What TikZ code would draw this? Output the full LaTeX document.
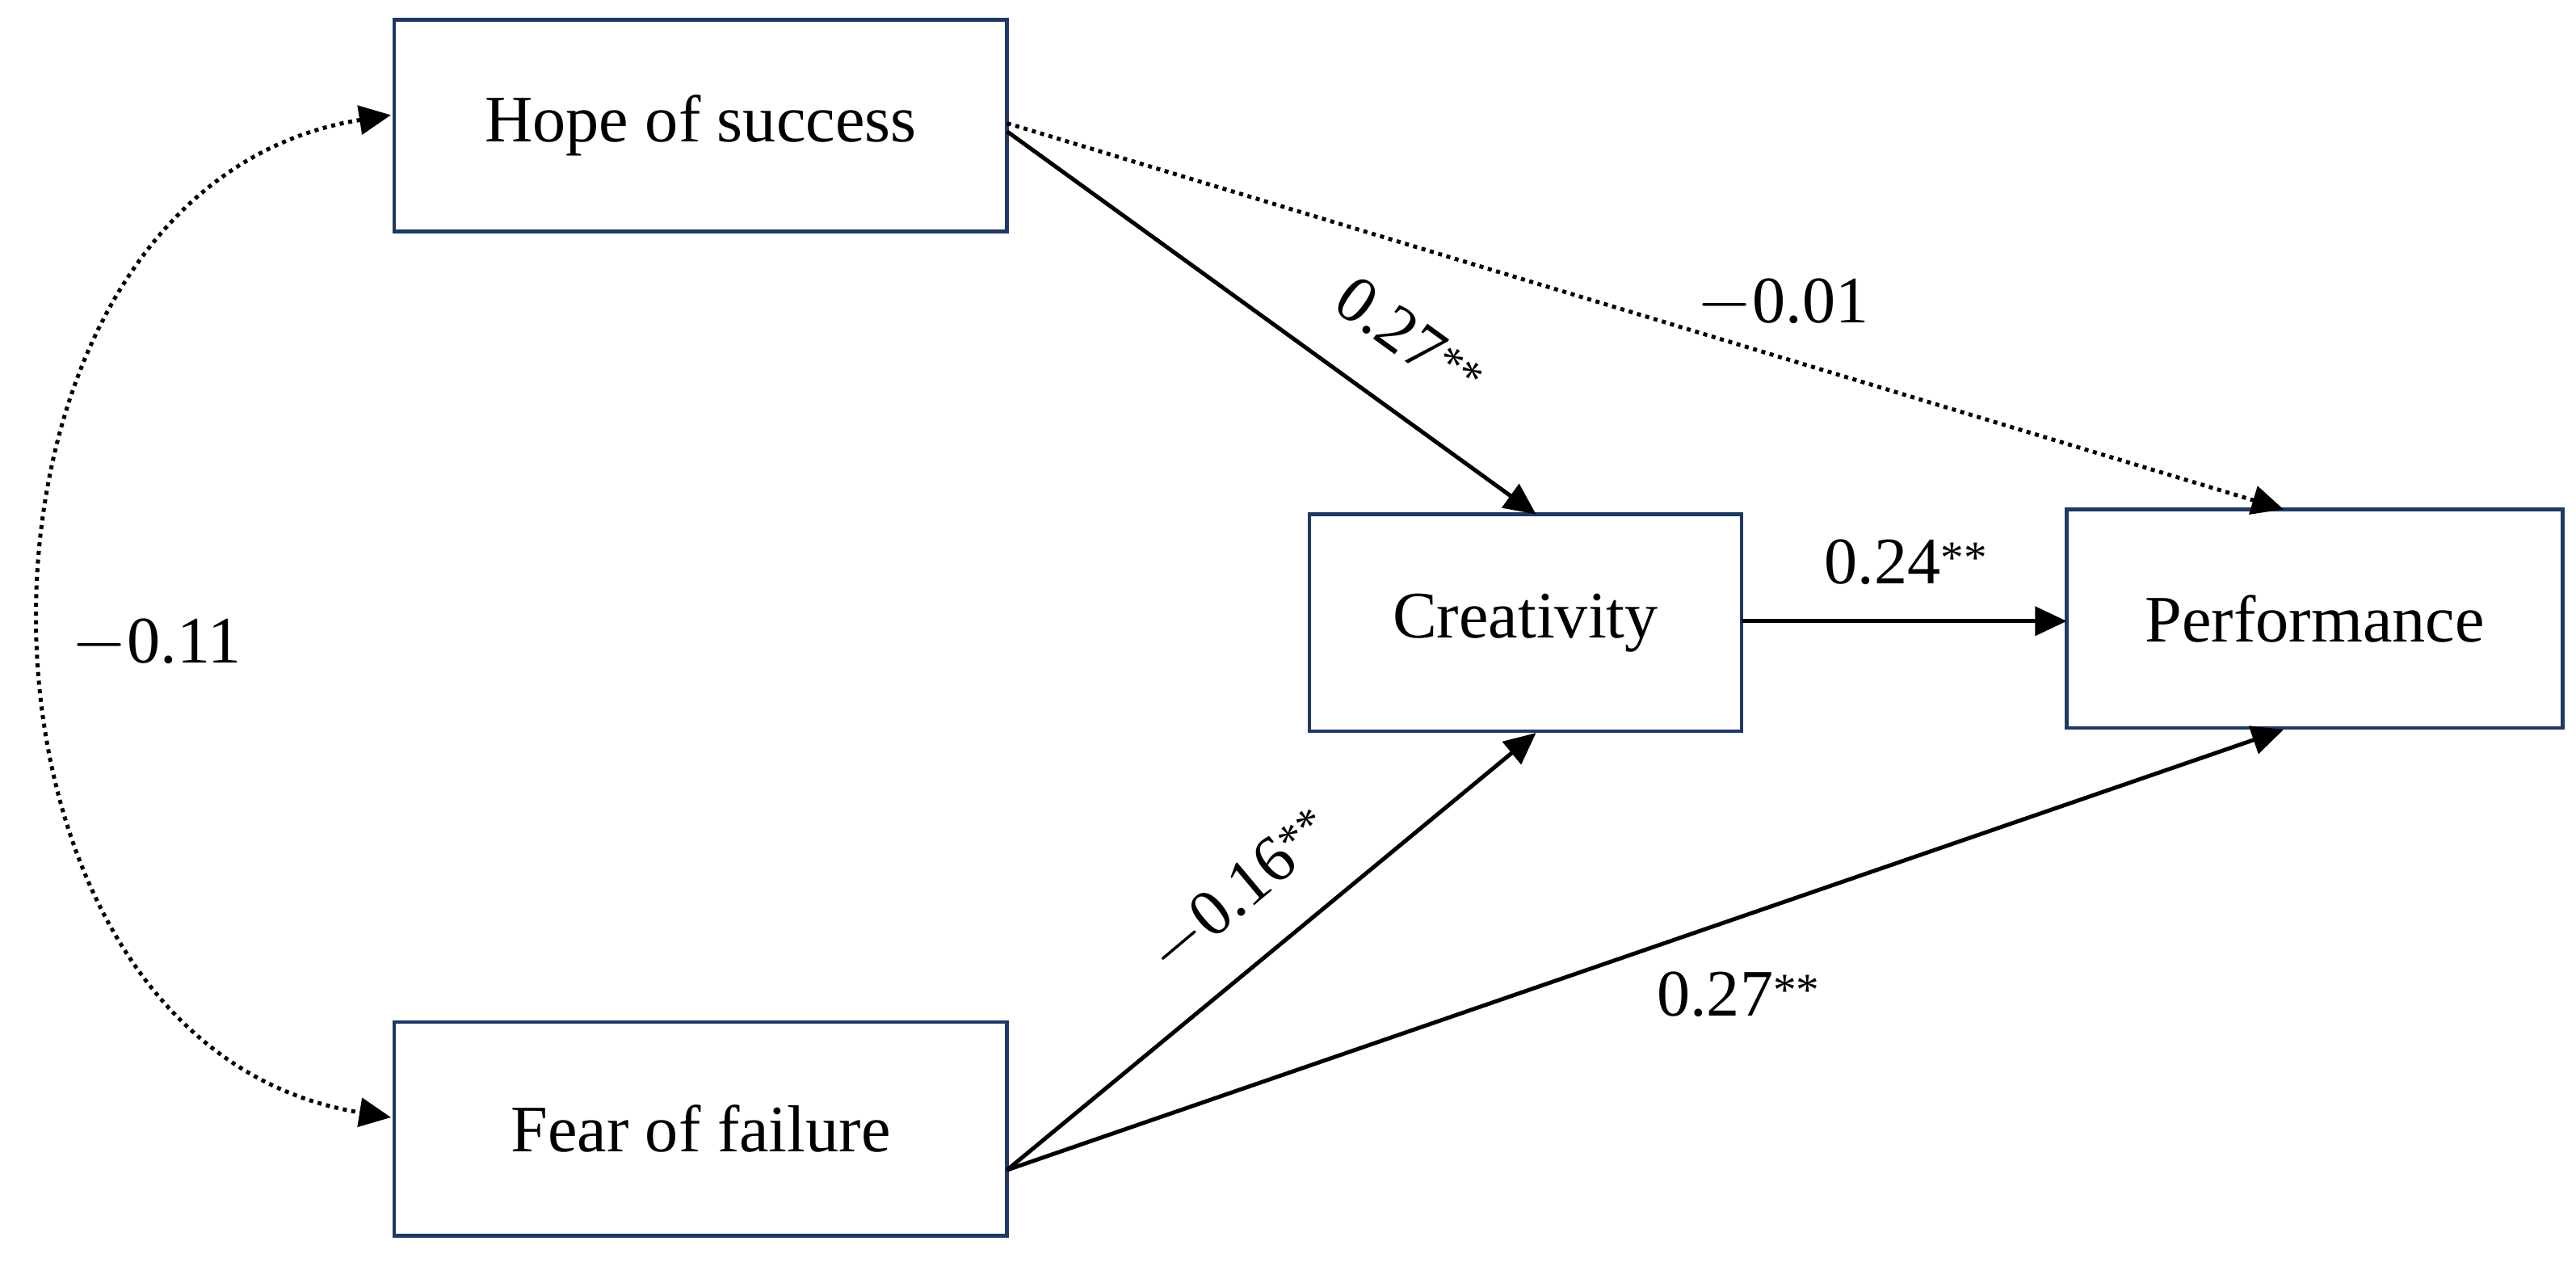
\documentclass[tikz,border=0pt]{standalone}
\usepackage{fontspec}
\setmainfont{Liberation Serif}
\usetikzlibrary{arrows.meta}
\definecolor{boxc}{HTML}{1F3864}
\newcommand{\st}{\raisebox{0.35ex}{\fontsize{16}{16}\selectfont **}}
\begin{document}
\begin{tikzpicture}[x=0.02cm,y=-0.02cm,
  box/.style={draw=boxc,line width=1.3pt,inner sep=0pt,font=\fontsize{23}{26}\selectfont},
  conn/.style={line width=1.4pt,-{Triangle[length=11pt,width=10pt]}},
  dotc/.style={conn,dash pattern=on 1.4pt off 1.6pt},
  lab/.style={font=\fontsize{23}{26}\selectfont}]
\useasboundingbox (0,0) rectangle (1568,768);
\node[box,minimum width=373*0.02cm,minimum height=129*0.02cm] (hope) at (426.5,76.5) {Hope of success};
\node[box,minimum width=373*0.02cm,minimum height=130*0.02cm] (fear) at (426.5,687) {Fear of failure};
\node[box,minimum width=263*0.02cm,minimum height=132*0.02cm] (crea) at (928.5,379) {Creativity};
\node[box,minimum width=302*0.02cm,minimum height=133*0.02cm] (perf) at (1409,376.5) {Performance};
\coordinate (hs) at (613,80); \coordinate (hs2) at (613,75);
\coordinate (ct) at (935,313); \coordinate (pt) at (1390,310);
\coordinate (fs) at (613,712); \coordinate (cb) at (935,446); \coordinate (pb) at (1390,444);
\coordinate (ce) at (1060,378); \coordinate (pw) at (1258,378);
\coordinate (ht) at (238,70); \coordinate (ft) at (238,680);
\draw[conn] (hs) -- (ct);
\draw[dotc] (hs2) -- (pt);
\draw[conn] (ce) -- (pw);
\draw[conn] (fs) -- (cb);
\draw[conn] (fs) -- (pb);
\draw[dotc,{Triangle[length=11pt,width=10pt]}-{Triangle[length=11pt,width=10pt]}] (ht) .. controls (-44,115) and (-44,635) .. (ft);
\node[lab] (l1) at (95,392) {$-$0.11};
\node[lab,rotate=-36] (l2) at (858,206) {0.27\st};
\node[lab] (l3) at (1085,185) {$-$0.01};
\node[lab] (l4) at (1160,342) {0.24\st};
\node[lab,rotate=40] (l5) at (755,543) {$-$0.16\st};
\node[lab] (l6) at (1058,605) {0.27\st};
\end{tikzpicture}
\end{document}
